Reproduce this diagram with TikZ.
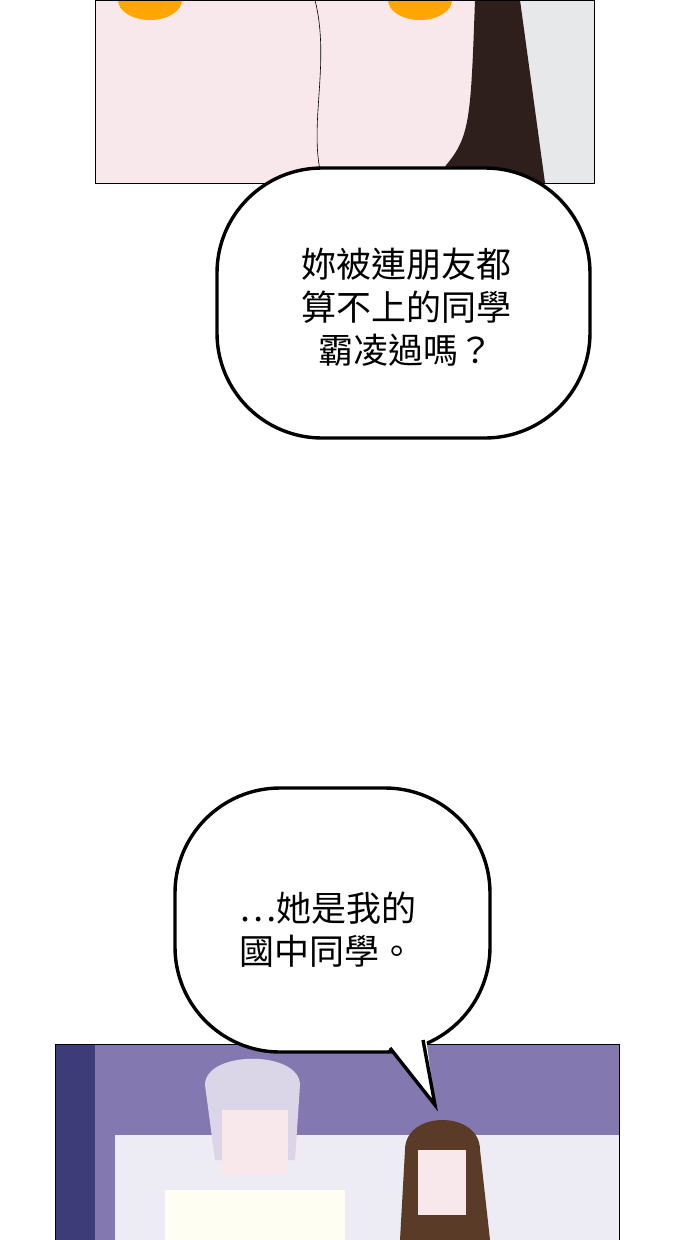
\documentclass[tikz,border=0pt]{standalone}
\usepackage{fontspec}
\newfontfamily\cjk{Noto Sans CJK TC}
\usetikzlibrary{positioning}
\definecolor{skin}{HTML}{F8E7EB}
\definecolor{hairdk}{HTML}{2E1E1C}
\definecolor{wallgrey}{HTML}{E6E8EA}
\definecolor{room}{HTML}{8478B0}
\definecolor{roomdk}{HTML}{3E3C78}
\begin{document}
\begin{tikzpicture}[x=1pt,y=-1pt,
  bubble/.style = {draw, line width=3.4pt, fill=white, rounded corners=105pt},
  talk/.style = {font=\cjk\fontsize{35}{43}\selectfont, align=left},
  panel/.style = {draw=black, line width=0.8pt}]
\useasboundingbox (0,0) rectangle (690,1240);
% top panel
\fill[skin] (95,0) rectangle (594,183);
\fill[wallgrey] (520,0) rectangle (594,183);
\fill[hairdk] (475,0) -- (520,0) -- (545,183) -- (430,183) .. controls (470,140) .. (475,0);
\draw[line width=0.6pt] (315,0) .. controls (330,60) and (310,120) .. (320,170);
\fill[orange!70!yellow] (150,0) ellipse (32 and 20);
\fill[orange!70!yellow] (420,0) ellipse (32 and 20);
\draw[panel] (95,0) rectangle (594,183);
% first bubble
\draw[bubble] (217,168) rectangle (590,438);
\node[talk, align=center] (ask) at (406,307) {妳被連朋友都\\算不上的同學\\霸凌過嗎？};
% bottom panel
\fill[room] (55,1044) rectangle (619,1240);
\fill[roomdk] (55,1044) rectangle (95,1240);
\fill[white!85!room] (115,1135) rectangle (619,1240);
\fill[white!70!room] (205,1085) .. controls (205,1050) and (300,1050) .. (300,1085) -- (295,1160) -- (215,1160) -- cycle;
\fill[white!95!yellow] (165,1190) rectangle (345,1240);
\fill[skin] (222,1110) rectangle (288,1175);
\fill[hairdk!70!brown] (405,1150) .. controls (405,1110) and (480,1110) .. (480,1150) -- (490,1240) -- (400,1240) -- cycle;
\fill[skin] (418,1150) rectangle (466,1215);
\draw[panel] (55,1044) rectangle (619,1240);
% second bubble
\draw[bubble] (175,788) rectangle (490,1052);
\coordinate (tip) at (435,1105);
\fill[white] (385,1040) -- (tip) -- (425,1030) -- cycle;
\draw[line width=3.4pt, line join=miter] (390,1048) -- (tip) -- (423,1040);
\node[talk, anchor=west] (reply) at (236,930) {…她是我的\\國中同學。};
\end{tikzpicture}
\end{document}
